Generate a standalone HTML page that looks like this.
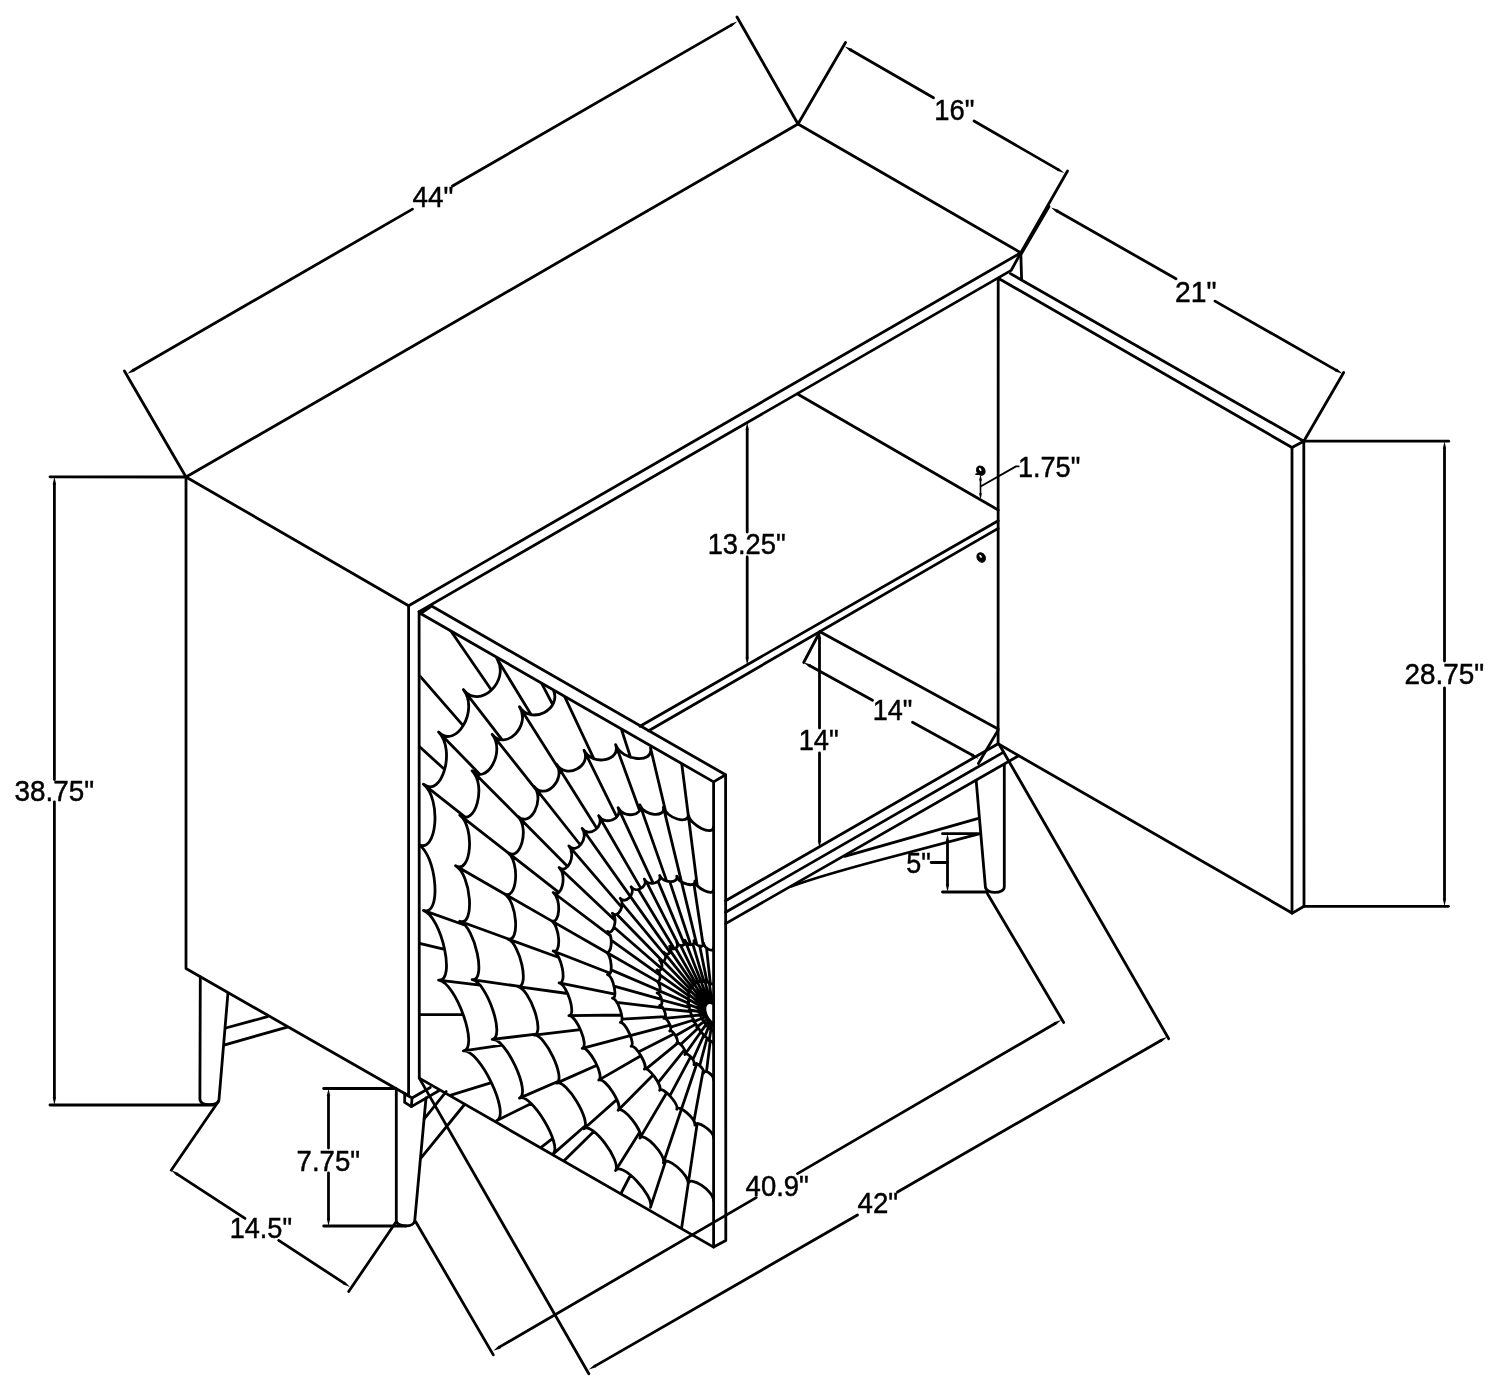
<!DOCTYPE html>
<html><head><meta charset="utf-8"><style>html,body{margin:0;padding:0;background:#fff;width:1500px;height:1392px;overflow:hidden}svg{display:block}</style></head>
<body><svg width="1500" height="1392" viewBox="0 0 1500 1392">
<defs><filter id="gs" x="0" y="0" width="1" height="1"><feColorMatrix type="matrix" values="0.333 0.333 0.333 0 0 0.333 0.333 0.333 0 0 0.333 0.333 0.333 0 0 0 0 0 1 0"/></filter><clipPath id="door"><path d="M420.5,613.5 L713.6,781.9 L713.6,1247.1 L419.3,1078.1 Z"/></clipPath></defs>
<rect width="1500" height="1392" fill="#fff"/>
<g fill="none" stroke="#000" stroke-width="2.8" stroke-linecap="round" stroke-linejoin="round">
<path d="M186.0,477.0 L798.0,124.0 L1020.8,252.8"/>
<path d="M186.0,477.0 L408.6,605.7 L1020.8,252.8"/>
<path d="M186.0,477.0 L186.0,968.5 L408.6,1095.8 L408.6,605.7"/>
<path d="M419.1,611.6 L1011.2,270.4 L1020.8,252.8"/>
<path d="M1020.8,252.8 L1021.6,279.5"/>
<path d="M998.2,278.4 L998.1,743.8 L1292.0,913.0 L1292.0,447.5 L999.2,278.8"/>
<path d="M1010.4,273.6 L1303.8,441.2 L1304.0,906.3 L1292.0,913.4"/>
<path d="M1303.8,441.2 L1292.0,447.5"/>
<path d="M797.5,394.0 L998.2,510.0"/>
<path d="M640.0,726.2 L998.2,520.8"/>
<path d="M648.7,730.8 L998.2,528.4"/>
<path d="M820.0,631.8 L998.1,729.0"/>
<path d="M998.1,743.8 L725.6,900.8"/>
<path d="M1003.2,752.4 L725.6,912.2"/>
<path d="M1018.2,756.0 L725.6,923.6"/>
<path d="M419.1,611.6 L419.3,1078.1 L713.6,1247.1 L713.6,781.9 L420.5,613.5 L431.6,606.0 L725.6,774.8 L713.6,781.9"/>
<path d="M725.6,774.8 L725.8,1240.4 L713.6,1247.1"/>
<path d="M200.3,977 L199.9,1099 C199.9,1106.5 218.8,1106.5 219,1099.5 L227.9,993.7" />
<path d="M225.8,1028.0 L267.5,1016.7"/>
<path d="M224.8,1044.8 L287.3,1027.1"/>
<path d="M396.3,1090 L396.3,1220.5 C396.3,1227.7 414.8,1227.7 414.8,1220.2 L426,1098" />
<path d="M404.7,1093.8 L404.7,1102.4 L411.4,1106.6 L438.8,1090.8"/>
<path d="M411.4,1106.6 L412.0,1098.0 L404.7,1093.8"/>
<path d="M412.0,1098.0 L430.3,1087.5"/>
<path d="M424.2,1118.8 L446.2,1091.6"/>
<path d="M421.1,1157.9 L464.5,1104.5"/>
<path d="M976.2,780.8 L985.4,886.9 C985.6,894.2 1004.3,894.2 1004.3,886.9 L1004.3,764.6" />
<path d="M977.5,818.7 L844.7,856.4"/>
<path d="M980,833.7 L880,860 Q820,876 791.8,886.2" />
<path d="M124.4,371.0 L186.0,477.0"/>
<path d="M737.0,17.0 L798.0,124.0"/>
<path d="M133.8,370.0 L412.5,209.1"/>
<path d="M452.5,186.0 L730.8,25.4"/>
<path d="M127.30,373.80 L134.65,371.52 L132.95,368.58 Z" fill="#000" stroke="none"/>
<path d="M737.30,21.60 L731.65,26.82 L729.95,23.88 Z" fill="#000" stroke="none"/>
<path d="M798.0,124.0 L845.5,42.5"/>
<path d="M1067.5,171.0 L1020.8,252.8"/>
<path d="M851.2,50.2 L933.5,97.7"/>
<path d="M974.0,121.0 L1057.8,169.4"/>
<path d="M844.70,46.50 L850.35,51.72 L852.05,48.77 Z" fill="#000" stroke="none"/>
<path d="M1064.30,173.10 L1056.95,170.83 L1058.65,167.88 Z" fill="#000" stroke="none"/>
<path d="M1057.5,211.2 L1176.0,278.8"/>
<path d="M1215.0,301.1 L1336.0,370.1"/>
<path d="M1051.00,207.50 L1056.67,212.69 L1058.36,209.74 Z" fill="#000" stroke="none"/>
<path d="M1342.50,373.80 L1335.14,371.56 L1336.83,368.61 Z" fill="#000" stroke="none"/>
<path d="M1049.0,206.5 L1021.5,253.5"/>
<path d="M1343.7,372.5 L1303.8,441.2"/>
<path d="M1303.8,441.2 L1448.7,441.2"/>
<path d="M1304.0,906.3 L1448.4,906.3"/>
<path d="M1444.5,448.8 L1444.5,661.0"/>
<path d="M1444.5,688.0 L1444.5,898.8"/>
<path d="M1444.50,441.25 L1442.80,448.75 L1446.20,448.75 Z" fill="#000" stroke="none"/>
<path d="M1444.50,906.30 L1442.80,898.80 L1446.20,898.80 Z" fill="#000" stroke="none"/>
<path d="M50.0,476.8 L186.0,477.0"/>
<path d="M50.0,1105.0 L213.0,1105.0"/>
<path d="M54.4,484.3 L54.4,779.6"/>
<path d="M54.4,801.8 L54.4,1097.5"/>
<path d="M54.40,476.80 L52.70,484.30 L56.10,484.30 Z" fill="#000" stroke="none"/>
<path d="M54.40,1105.00 L52.70,1097.50 L56.10,1097.50 Z" fill="#000" stroke="none"/>
<path d="M747.2,430.0 L747.2,532.0"/>
<path d="M747.2,557.0 L747.2,657.5"/>
<path d="M747.20,422.50 L745.50,430.00 L748.90,430.00 Z" fill="#000" stroke="none"/>
<path d="M747.20,665.00 L745.50,657.50 L748.90,657.50 Z" fill="#000" stroke="none"/>
<path d="M980.5,480.5 L980.5,493.3" stroke-width="1.6"/>
<path d="M980.50,474.50 L979.00,480.50 L982.00,480.50 Z" fill="#000" stroke="none"/>
<path d="M980.50,499.30 L979.00,493.30 L982.00,493.30 Z" fill="#000" stroke="none"/>
<path d="M981.0,486.3 L1016.0,466.4 L1018.7,466.4" stroke-width="1.8"/>
<ellipse cx="980.8" cy="470.7" rx="4.0" ry="4.9" transform="rotate(-35 980.8 470.7)" fill="#000" stroke-width="1"/>
<ellipse cx="981.2" cy="557.5" rx="4.0" ry="4.9" transform="rotate(-35 981.2 557.5)" fill="#000" stroke-width="1"/>
<ellipse cx="980.2" cy="469.5" rx="1.0" ry="1.8" transform="rotate(-35 980.2 469.5)" fill="#fff" stroke="none"/>
<ellipse cx="980.6" cy="556.3" rx="1.0" ry="1.8" transform="rotate(-35 980.6 556.3)" fill="#fff" stroke="none"/>
<path d="M976.2,474.2 L979.0,474.2" stroke-width="1.8"/>
<path d="M819.5,639.0 L819.5,728.0"/>
<path d="M819.5,753.0 L819.5,840.5"/>
<path d="M819.50,631.50 L817.80,639.00 L821.20,639.00 Z" fill="#000" stroke="none"/>
<path d="M819.50,848.00 L817.80,840.50 L821.20,840.50 Z" fill="#000" stroke="none"/>
<path d="M803.7,662.5 L820.0,631.5"/>
<path d="M810.3,666.1 L872.5,700.3"/>
<path d="M912.5,722.3 L972.1,755.1"/>
<path d="M803.70,662.50 L809.45,667.60 L811.09,664.62 Z" fill="#000" stroke="none"/>
<path d="M978.70,758.70 L971.31,756.58 L972.95,753.60 Z" fill="#000" stroke="none"/>
<path d="M978.4,763.5 L998.1,730.1"/>
<path d="M942.5,833.7 L977.5,833.7"/>
<path d="M942.5,892.0 L987.5,892.0"/>
<path d="M947.5,841.2 L947.5,884.5"/>
<path d="M947.50,833.70 L945.80,841.20 L949.20,841.20 Z" fill="#000" stroke="none"/>
<path d="M947.50,892.00 L945.80,884.50 L949.20,884.50 Z" fill="#000" stroke="none"/>
<path d="M931.2,862.5 L947.5,862.5"/>
<path d="M323.7,1088.5 L395.6,1088.5"/>
<path d="M323.7,1226.0 L406.0,1226.0"/>
<path d="M328.5,1096.0 L328.5,1148.0"/>
<path d="M328.5,1173.0 L328.5,1218.5"/>
<path d="M328.50,1088.50 L326.80,1096.00 L330.20,1096.00 Z" fill="#000" stroke="none"/>
<path d="M328.50,1226.00 L326.80,1218.50 L330.20,1218.50 Z" fill="#000" stroke="none"/>
<path d="M218.7,1101.0 L171.2,1170.2"/>
<path d="M177.5,1174.3 L245.0,1218.4"/>
<path d="M278.7,1240.4 L343.7,1282.9"/>
<path d="M171.20,1170.20 L176.55,1175.72 L178.41,1172.88 Z" fill="#000" stroke="none"/>
<path d="M350.00,1287.00 L342.79,1284.32 L344.65,1281.48 Z" fill="#000" stroke="none"/>
<path d="M348.7,1291.5 L396.0,1222.0"/>
<path d="M415.7,1221.7 L493.3,1354.9"/>
<path d="M987.5,893.7 L1063.7,1022.5"/>
<path d="M499.8,1346.9 L756.2,1197.6"/>
<path d="M797.5,1173.6 L1054.7,1023.8"/>
<path d="M493.30,1350.70 L500.64,1348.39 L498.93,1345.46 Z" fill="#000" stroke="none"/>
<path d="M1061.20,1020.00 L1055.57,1025.24 L1053.86,1022.31 Z" fill="#000" stroke="none"/>
<path d="M419.3,1078.1 L588.8,1373.8"/>
<path d="M999.5,745.0 L1168.7,1038.7"/>
<path d="M595.3,1365.9 L857.5,1215.0"/>
<path d="M897.5,1192.0 L1160.5,1040.7"/>
<path d="M588.80,1369.60 L596.15,1367.33 L594.45,1364.39 Z" fill="#000" stroke="none"/>
<path d="M1167.00,1037.00 L1161.35,1042.21 L1159.65,1039.27 Z" fill="#000" stroke="none"/>
<path clip-path="url(#door)" d="M688.2,1183.9 L697.2,1123.5 M663.4,1162.8 L681.5,1109.0 M639.9,1138.1 L666.7,1092.8 M618.1,1110.3 L653.1,1074.9 M598.7,1080.1 L640.9,1055.8 M582.2,1048.3 L630.3,1035.7 M568.9,1015.7 L621.6,1015.0 M559.1,982.9 L614.9,994.1 M553.2,951.0 L610.2,973.3 M551.2,920.6 L605.9,952.0 M553.2,892.5 L610.2,935.6 M559.1,867.4 L614.9,920.3 M568.9,845.9 L621.6,907.1 M582.2,828.5 L630.3,896.4 M598.7,815.7 L640.9,888.4 M618.1,807.7 L653.1,883.2 M639.9,804.9 L666.7,881.1 M663.4,807.2 L681.5,881.8 M688.2,814.5 L697.2,885.3 M650.5,1207.4 L665.6,1161.1 M615.6,1170.6 L639.6,1132.2 M584.0,1128.7 L616.8,1099.6 M556.6,1083.1 L596.9,1065.3 M534.2,1035.2 L580.4,1029.7 M517.8,986.6 L567.6,993.5 M507.6,938.9 L558.8,957.5 M504.2,893.7 L551.2,920.6 M507.6,852.3 L558.8,892.4 M517.8,816.3 L567.6,866.6 M534.2,786.6 L580.4,845.0 M556.6,764.3 L596.9,828.4 M584.0,750.2 L616.8,816.9 M615.6,744.6 L639.6,810.5 M650.5,747.8 L665.6,811.4 M553.0,1154.1 L585.3,1125.8 M519.5,1098.1 L558.4,1081.2 M492.2,1039.3 L536.2,1034.2 M472.1,979.7 L519.6,986.4 M459.8,921.3 L509.2,939.3 M455.6,865.8 L504.2,893.7 M459.8,815.1 L509.2,853.7 M472.1,770.7 L519.6,818.5 M492.2,734.3 L536.2,789.8 M519.5,706.8 L558.4,768.3 M496.9,1120.5 L531.2,1103.6 M463.4,1050.9 L502.2,1045.2 M438.6,980.1 L480.0,985.2 M423.4,910.4 L465.2,925.3 M423.4,784.2 L465.2,817.2 M438.6,732.0 L480.0,774.4 M463.4,689.6 L502.2,739.8 M496.9,658.5 L531.2,714.8 M710.9,1030.0 L712.1,1022.8 M708.3,1027.6 L710.6,1021.5 M705.8,1024.9 L709.3,1020.0 M703.5,1021.8 L708.0,1018.3 M701.6,1018.5 L706.9,1016.4 M700.1,1015.0 L706.1,1014.5 M698.9,1011.5 L705.4,1012.5 M698.2,1008.1 L705.0,1010.6 M698.0,1004.8 L704.9,1008.8 M698.2,1001.8 L705.0,1007.2 M698.9,999.2 L705.4,1005.7 M700.1,997.0 L706.1,1004.5 M701.6,995.4 L706.9,1003.6 M703.5,994.2 L708.0,1002.9 M705.8,993.7 L709.3,1002.6 M708.3,993.8 L710.6,1002.7 M710.9,994.5 L712.1,1003.1 M709.1,1040.7 L710.9,1030.0 M704.7,1036.9 L708.3,1027.6 M700.6,1032.3 L705.8,1024.9 M696.8,1027.2 L703.5,1021.8 M693.6,1021.6 L701.6,1018.5 M691.0,1015.9 L700.1,1015.0 M689.1,1010.0 L698.9,1011.5 M687.9,1004.3 L698.2,1008.1 M687.5,998.8 L698.0,1004.8 M687.9,993.9 L698.2,1001.8 M689.1,989.5 L698.9,999.2 M691.0,985.9 L700.1,997.0 M693.6,983.1 L701.6,995.4 M696.8,981.2 L703.5,994.2 M700.6,980.3 L705.8,993.7 M704.7,980.5 L708.3,993.8 M709.1,981.7 L710.9,994.5 M706.5,1071.6 L710.3,1040.7 M699.7,1065.6 L707.1,1038.0 M692.9,1059.5 L703.9,1035.1 M684.9,1054.5 L700.6,1032.3 M680.6,1044.4 L698.2,1028.0 M675.6,1035.7 L695.8,1024.1 M670.6,1027.1 L693.6,1020.0 M663.9,1018.3 L691.0,1015.9 M663.5,1008.9 L690.3,1011.5 M661.7,1000.0 L689.3,1007.4 M659.9,991.1 L688.6,1003.2 M656.3,980.9 L687.5,998.8 M659.9,974.8 L688.6,995.7 M661.7,968.0 L689.3,992.4 M663.5,961.2 L690.3,989.3 M663.9,952.3 L691.0,985.9 M670.6,951.1 L693.6,984.6 M675.6,948.2 L695.8,983.2 M680.6,945.4 L698.2,981.9 M684.9,940.2 L700.6,980.3 M692.9,944.3 L703.9,981.4 M699.7,946.0 L707.1,982.1 M706.5,947.9 L710.3,983.1 M693.9,1121.2 L703.2,1070.4 M681.5,1109.0 L696.8,1063.7 M669.8,1095.8 L690.7,1056.7 M658.1,1082.6 L684.5,1049.8 M646.2,1068.9 L678.0,1042.9 M638.4,1051.9 L674.3,1033.8 M630.3,1035.7 L670.1,1025.2 M622.0,1019.2 L665.5,1016.6 M616.8,1002.4 L662.8,1007.8 M614.0,986.1 L661.5,999.3 M611.1,969.9 L659.9,990.8 M605.9,952.0 L656.3,980.9 M611.1,940.1 L659.9,975.2 M614.0,927.2 L661.5,968.5 M616.8,914.2 L662.8,961.5 M622.0,903.3 L665.5,955.7 M630.3,896.4 L670.1,952.4 M638.4,889.4 L674.3,948.7 M646.2,881.4 L678.0,943.9 M658.1,881.4 L684.5,944.4 M669.8,881.6 L690.7,944.7 M681.5,881.8 L696.8,944.6 M693.9,883.8 L703.2,945.3 M444.6,769.5 L129.7,483.5 M444.6,949.4 L129.7,874.1 M463.1,725.7 L169.9,388.4 M463.1,1014.5 L169.9,1015.3 M491.4,690.0 L231.2,310.9 M491.4,1082.6 L231.2,1163.1 M552.7,704.6 L318.7,254.9 M552.7,1138.4 L318.7,1319.5 M593.8,758.7 L351.9,243.6 M593.8,1131.4 L351.9,1369.0 M630.5,757.2 L460.5,232.1 M630.5,1175.0 L460.5,1505.0 M688.2,814.5 L618.5,267.8 M688.2,1183.9 L618.5,1650.6 M713.6,1031.8 C713.6,1031.2 711.0,1029.4 710.9,1030.0 M710.9,1030.0 C711.0,1029.4 708.4,1027.2 708.3,1027.6 M708.3,1027.6 C708.4,1027.2 706.1,1024.5 705.8,1024.9 M705.8,1024.9 C706.1,1024.5 703.9,1021.5 703.5,1021.8 M703.5,1021.8 C703.9,1021.5 702.0,1018.3 701.6,1018.5 M701.6,1018.5 C702.0,1018.3 700.5,1015.0 700.1,1015.0 M700.1,1015.0 C700.5,1015.0 699.4,1011.6 698.9,1011.5 M698.9,1011.5 C699.4,1011.6 698.7,1008.3 698.2,1008.1 M698.2,1008.1 C698.7,1008.3 698.5,1005.1 698.0,1004.8 M698.0,1004.8 C698.5,1005.1 698.7,1002.3 698.2,1001.8 M698.2,1001.8 C698.7,1002.3 699.4,999.7 698.9,999.2 M698.9,999.2 C699.4,999.7 700.5,997.6 700.1,997.0 M700.1,997.0 C700.5,997.6 702.0,996.0 701.6,995.4 M701.6,995.4 C702.0,996.0 703.9,994.9 703.5,994.2 M703.5,994.2 C703.9,994.9 706.1,994.4 705.8,993.7 M705.8,993.7 C706.1,994.4 708.4,994.5 708.3,993.8 M708.3,993.8 C708.4,994.5 711.0,995.2 710.9,994.5 M710.9,994.5 C711.0,995.2 713.6,996.4 713.6,995.8  M713.6,1043.8 C713.6,1042.5 709.3,1039.6 709.1,1040.7 M709.1,1040.7 C709.3,1039.6 705.1,1035.9 704.7,1036.9 M704.7,1036.9 C705.1,1035.9 701.1,1031.5 700.6,1032.3 M700.6,1032.3 C701.1,1031.5 697.6,1026.6 696.8,1027.2 M696.8,1027.2 C697.6,1026.6 694.5,1021.3 693.6,1021.6 M693.6,1021.6 C694.5,1021.3 692.0,1015.8 691.0,1015.9 M691.0,1015.9 C692.0,1015.8 690.2,1010.2 689.1,1010.0 M689.1,1010.0 C690.2,1010.2 689.1,1004.7 687.9,1004.3 M687.9,1004.3 C689.1,1004.7 688.7,999.5 687.5,998.8 M687.5,998.8 C688.7,999.5 689.1,994.7 687.9,993.9 M687.9,993.9 C689.1,994.7 690.2,990.5 689.1,989.5 M689.1,989.5 C690.2,990.5 692.0,987.1 691.0,985.9 M691.0,985.9 C692.0,987.1 694.5,984.4 693.6,983.1 M693.6,983.1 C694.5,984.4 697.6,982.6 696.8,981.2 M696.8,981.2 C697.6,982.6 701.1,981.8 700.6,980.3 M700.6,980.3 C701.1,981.8 705.1,981.9 704.7,980.5 M704.7,980.5 C705.1,981.9 709.3,983.1 709.1,981.7 M709.1,981.7 C709.3,983.1 713.6,985.1 713.6,983.8  M713.6,1079.8 C713.6,1074.6 704.4,1068.4 703.6,1073.1 M703.6,1073.1 C704.4,1068.4 695.5,1060.6 694.0,1064.6 M694.0,1064.6 C695.5,1060.6 687.2,1051.3 684.9,1054.5 M684.9,1054.5 C687.2,1051.3 679.6,1040.9 676.7,1043.2 M676.7,1043.2 C679.6,1040.9 673.1,1029.7 669.7,1031.0 M669.7,1031.0 C673.1,1029.7 667.8,1018.0 663.9,1018.3 M663.9,1018.3 C667.8,1018.0 663.9,1006.1 659.7,1005.5 M659.7,1005.5 C663.9,1006.1 661.6,994.5 657.1,992.9 M657.1,992.9 C661.6,994.5 660.8,983.5 656.3,980.9 M656.3,980.9 C660.8,983.5 661.6,973.4 657.1,969.9 M657.1,969.9 C661.6,973.4 663.9,964.5 659.7,960.3 M659.7,960.3 C663.9,964.5 667.8,957.1 663.9,952.3 M663.9,952.3 C667.8,957.1 673.1,951.5 669.7,946.2 M669.7,946.2 C673.1,951.5 679.6,947.7 676.7,942.1 M676.7,942.1 C679.6,947.7 687.2,946.0 684.9,940.2 M684.9,940.2 C687.2,946.0 695.5,946.3 694.0,940.5 M694.0,940.5 C695.5,946.3 704.4,948.6 703.6,943.1 M703.6,943.1 C704.4,948.6 713.6,953.0 713.6,947.8  M713.6,1137.8 C713.6,1130.9 695.9,1119.0 694.9,1125.2 M694.9,1125.2 C695.9,1119.0 678.8,1103.9 676.8,1109.2 M676.8,1109.2 C678.8,1103.9 662.7,1086.0 659.7,1090.3 M659.7,1090.3 C662.7,1086.0 648.2,1066.0 644.4,1069.1 M644.4,1069.1 C648.2,1066.0 635.7,1044.4 631.1,1046.2 M631.1,1046.2 C635.7,1044.4 625.5,1021.8 620.3,1022.3 M620.3,1022.3 C625.5,1021.8 618.0,999.0 612.4,998.1 M612.4,998.1 C618.0,999.0 613.4,976.7 607.5,974.5 M607.5,974.5 C613.4,976.7 611.9,955.4 605.9,952.0 M605.9,952.0 C611.9,955.4 613.4,936.0 607.5,931.4 M607.5,931.4 C613.4,936.0 618.0,918.9 612.4,913.3 M612.4,913.3 C618.0,918.9 625.5,904.7 620.3,898.3 M620.3,898.3 C625.5,904.7 635.7,893.8 631.1,886.8 M631.1,886.8 C635.7,893.8 648.2,886.6 644.4,879.1 M644.4,879.1 C648.2,886.6 662.7,883.2 659.7,875.5 M659.7,875.5 C662.7,883.2 678.8,883.8 676.8,876.1 M676.8,876.1 C678.8,883.8 695.9,888.4 694.9,881.0 M694.9,881.0 C695.9,888.4 713.6,896.7 713.6,889.8  M713.6,1200.8 C713.6,1190.8 689.5,1174.8 688.2,1183.9 M688.2,1183.9 C689.5,1174.8 666.1,1154.9 663.4,1162.8 M663.4,1162.8 C666.1,1154.9 643.8,1131.5 639.9,1138.1 M639.9,1138.1 C643.8,1131.5 623.2,1105.2 618.1,1110.3 M618.1,1110.3 C623.2,1105.2 604.9,1076.6 598.7,1080.1 M598.7,1080.1 C604.9,1076.6 589.2,1046.5 582.2,1048.3 M582.2,1048.3 C589.2,1046.5 576.6,1015.6 568.9,1015.7 M568.9,1015.7 C576.6,1015.6 567.3,984.6 559.1,982.9 M559.1,982.9 C567.3,984.6 561.7,954.4 553.2,951.0 M553.2,951.0 C561.7,954.4 559.8,925.6 551.2,920.6 M551.2,920.6 C559.8,925.6 561.7,899.0 553.2,892.5 M553.2,892.5 C561.7,899.0 567.3,875.2 559.1,867.4 M559.1,867.4 C567.3,875.2 576.6,854.8 568.9,845.9 M568.9,845.9 C576.6,854.8 589.2,838.4 582.2,828.5 M582.2,828.5 C589.2,838.4 604.9,826.2 598.7,815.7 M598.7,815.7 C604.9,826.2 623.2,818.7 618.1,807.7 M618.1,807.7 C623.2,818.7 643.8,816.0 639.9,804.9 M639.9,804.9 C643.8,816.0 666.1,818.2 663.4,807.2 M663.4,807.2 C666.1,818.2 689.5,825.2 688.2,814.5 M688.2,814.5 C689.5,825.2 713.6,836.8 713.6,826.8  M650.5,1207.4 C654.3,1195.5 621.6,1161.0 615.6,1170.6 M615.6,1170.6 C621.6,1161.0 591.9,1121.7 584.0,1128.7 M584.0,1128.7 C591.9,1121.7 566.2,1078.8 556.6,1083.1 M556.6,1083.1 C566.2,1078.8 545.2,1033.9 534.2,1035.2 M534.2,1035.2 C545.2,1033.9 529.8,988.3 517.8,986.6 M517.8,986.6 C529.8,988.3 520.3,943.5 507.6,938.9 M507.6,938.9 C520.3,943.5 517.1,901.1 504.2,893.7 M504.2,893.7 C517.1,901.1 520.3,862.2 507.6,852.3 M507.6,852.3 C520.3,862.2 529.8,828.4 517.8,816.3 M517.8,816.3 C529.8,828.4 545.2,800.5 534.2,786.6 M534.2,786.6 C545.2,800.5 566.2,779.6 556.6,764.3 M556.6,764.3 C566.2,779.6 591.9,766.3 584.0,750.2 M584.0,750.2 C591.9,766.3 621.6,761.1 615.6,744.6 M615.6,744.6 C621.6,761.1 654.3,764.1 650.5,747.8  M553.0,1154.1 C562.8,1145.5 531.3,1092.9 519.5,1098.1 M519.5,1098.1 C531.3,1092.9 505.7,1037.7 492.2,1039.3 M492.2,1039.3 C505.7,1037.7 486.8,981.8 472.1,979.7 M472.1,979.7 C486.8,981.8 475.2,926.9 459.8,921.3 M459.8,921.3 C475.2,926.9 471.3,874.8 455.6,865.8 M455.6,865.8 C471.3,874.8 475.2,827.2 459.8,815.1 M459.8,815.1 C475.2,827.2 486.8,785.6 472.1,770.7 M472.1,770.7 C486.8,785.6 505.7,751.3 492.2,734.3 M492.2,734.3 C505.7,751.3 531.3,725.5 519.5,706.8 M519.5,706.8 C531.3,725.5 562.8,709.0 553.0,689.2  M496.9,1120.5 C510.6,1113.7 479.3,1048.6 463.4,1050.9 M463.4,1050.9 C479.3,1048.6 456.0,982.2 438.6,980.1 M438.6,980.1 C456.0,982.2 441.8,917.0 423.4,910.4 M423.4,910.4 C441.8,917.0 437.0,855.1 418.2,844.3 M418.2,844.3 C437.0,855.1 441.8,798.7 423.4,784.2 M423.4,784.2 C441.8,798.7 456.0,749.8 438.6,732.0 M438.6,732.0 C456.0,749.8 479.3,710.1 463.4,689.6 M463.4,689.6 C479.3,710.1 510.6,681.0 496.9,658.5  M713.6,1023.8 L712.1,1022.8 L710.6,1021.5 L709.3,1020.0 L708.0,1018.3 L706.9,1016.4 L706.1,1014.5 L705.4,1012.5 L705.0,1010.6 L704.9,1008.8 L705.0,1007.2 L705.4,1005.7 L706.1,1004.5 L706.9,1003.6 L708.0,1002.9 L709.3,1002.6 L710.6,1002.7 L712.1,1003.1 L713.6,1003.8"/>
</g>
<g style="font-family:'Liberation Sans',sans-serif" font-size="28" fill="#000" stroke="#000" stroke-width="0.45" filter="url(#gs)">
<text transform="matrix(0.9949,0,0,1.0368,412.60,207.30)">44&quot;</text>
<text transform="matrix(0.9785,0,0,1.0421,934.25,120.00)">16&quot;</text>
<text transform="matrix(1.0105,0,0,1.0421,1174.99,301.60)">21&quot;</text>
<text transform="matrix(0.9961,0,0,1.0474,1404.41,683.80)">28.75&quot;</text>
<text transform="matrix(0.9948,0,0,1.0579,14.61,800.90)">38.75&quot;</text>
<text transform="matrix(0.9751,0,0,1.0211,707.66,553.70)">13.25&quot;</text>
<text transform="matrix(0.9681,0,0,1.0526,1017.93,476.75)">1.75&quot;</text>
<text transform="matrix(0.9758,0,0,1.0526,798.66,749.80)">14&quot;</text>
<text transform="matrix(0.9677,0,0,1.0421,872.68,719.80)">14&quot;</text>
<text transform="matrix(0.9612,0,0,1.0684,906.25,873.50)">5&quot;</text>
<text transform="matrix(0.9847,0,0,1.0263,296.62,1170.75)">7.75&quot;</text>
<text transform="matrix(0.9681,0,0,1.0395,229.68,1237.75)">14.5&quot;</text>
<text transform="matrix(0.9810,0,0,1.0395,745.61,1195.50)">40.9&quot;</text>
<text transform="matrix(0.9872,0,0,1.0421,857.51,1212.90)">42&quot;</text>
</g>
</svg></body></html>
